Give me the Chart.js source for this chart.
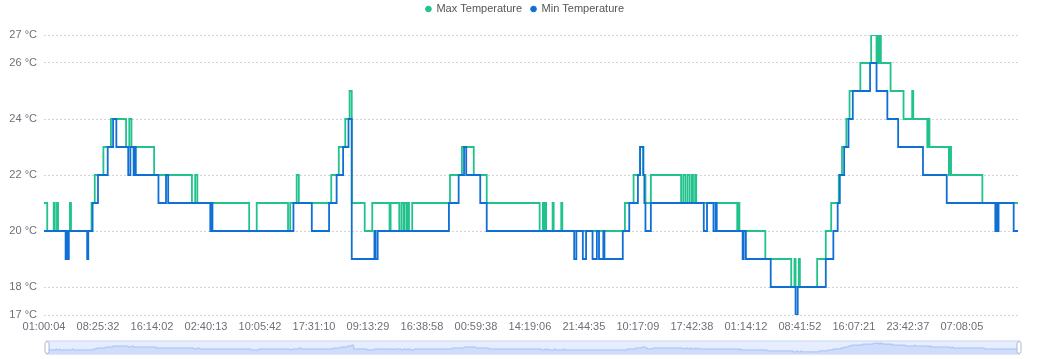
<!DOCTYPE html>
<html>
<head>
<meta charset="utf-8">
<script src="https://cdn.jsdelivr.net/npm/chart.js@4.4.1/dist/chart.umd.min.js"></script>
<style>
html, body { margin: 0; padding: 0; background: #fff; }
#wrap { position: relative; width: 1050px; height: 359px; }
#main { position: absolute; left: 0; top: 0; }
#slider { position: absolute; left: 0; top: 340px; }
</style>
</head>
<body>
<div id="wrap">
<canvas id="main" width="1050" height="359"></canvas>
<canvas id="slider" width="1050" height="15"></canvas>
</div>
<script>
// x axis: sample index, a label every 50 samples
const sampleCount = 903;
const labelEvery = 50;
const tickLabels = ["01:00:04", "08:25:32", "16:14:02", "02:40:13", "10:05:42", "17:31:10",
  "09:13:29", "16:38:58", "00:59:38", "14:19:06", "21:44:35", "10:17:09",
  "17:42:38", "01:14:12", "08:41:52", "16:07:21", "23:42:37", "07:08:05"];
const yTicks = [17, 18, 20, 22, 24, 26, 27];

// sample index where each new level starts, and the level
const maxAt = [0, 3, 9, 10, 12, 13, 24, 25, 44, 47, 55, 62, 76, 79, 81, 102, 137, 140, 142, 190,
  197, 226, 228, 234, 236, 266, 273, 279, 283, 285, 297, 304, 320, 321, 329, 331, 333, 334, 336, 337,
  338, 341, 376, 387, 398, 410, 459, 462, 463, 464, 465, 471, 472, 479, 480, 538, 546, 552, 555, 557,
  562, 590, 592, 594, 596, 598, 600, 601, 603, 604, 642, 643, 644, 668, 692, 695, 696, 699, 700, 716,
  724, 729, 736, 739, 743, 746, 756, 766, 771, 772, 773, 774, 775, 784, 796, 804, 805, 818, 819, 820,
  838, 839, 840, 869, 902];
const maxTemp = [21, 20, 21, 20, 21, 20, 21, 20, 21, 22, 23, 24, 23, 24, 23, 22, 21, 22, 21, 20,
  21, 20, 21, 22, 21, 22, 23, 24, 25, 21, 20, 21, 20, 21, 20, 21, 20, 21, 20, 21,
  20, 21, 22, 23, 22, 21, 20, 21, 20, 21, 20, 21, 20, 21, 20, 21, 22, 23, 22, 21,
  22, 21, 22, 21, 22, 21, 22, 21, 22, 21, 20, 21, 20, 19, 18, 19, 18, 19, 18, 19,
  20, 21, 22, 23, 24, 25, 26, 27, 26, 27, 26, 27, 26, 25, 24, 25, 24, 23, 24, 23,
  22, 23, 22, 21, 21];

const minAt = [0, 20, 21, 22, 23, 40, 41, 45, 50, 59, 64, 67, 78, 80, 83, 84, 85, 106, 113, 115,
  154, 155, 156, 231, 248, 264, 271, 277, 282, 285, 306, 307, 309, 375, 384, 389, 391, 404, 410, 491,
  493, 499, 502, 508, 512, 514, 518, 519, 536, 542, 550, 552, 555, 556, 557, 562, 611, 614, 620, 622,
  623, 647, 648, 650, 673, 696, 698, 724, 731, 735, 737, 741, 745, 749, 765, 771, 781, 791, 814, 836,
  881, 882, 883, 884, 898, 902];
const minTemp = [20, 19, 20, 19, 20, 19, 20, 21, 22, 23, 24, 23, 22, 23, 22, 23, 22, 21, 22, 21,
  20, 21, 20, 21, 20, 21, 22, 23, 24, 19, 20, 19, 20, 21, 22, 23, 22, 21, 20, 19,
  20, 19, 20, 19, 20, 19, 20, 19, 20, 21, 22, 23, 22, 21, 20, 21, 20, 21, 20, 21,
  20, 19, 20, 19, 18, 17, 18, 19, 20, 21, 22, 23, 24, 25, 26, 25, 24, 23, 22, 21,
  20, 21, 20, 21, 20, 20];

const green = "#22c28d";
const blue = "#0f6fd4";

const maxPoints = maxAt.map((x, i) => ({ x: x, y: maxTemp[i] }));
const minPoints = minAt.map((x, i) => ({ x: x, y: minTemp[i] }));

Chart.defaults.font.family = "'Liberation Sans', Arial, sans-serif";
Chart.defaults.font.size = 11;
Chart.defaults.color = "#6e7079";

// legend sits a bit above, chart area starts at the 27 line
const legendSpace = {
  id: "legendSpace",
  beforeInit(chart) {
    const fit = chart.legend.fit;
    chart.legend.fit = function () {
      fit.call(this);
      this.height = 40.5;
    };
  }
};

new Chart(document.getElementById("main"), {
  type: "line",
  data: {
    datasets: [{
      label: "Max Temperature",
      data: maxPoints,
      borderColor: green,
      backgroundColor: green,
      order: 1
    }, {
      label: "Min Temperature",
      data: minPoints,
      borderColor: blue,
      backgroundColor: blue,
      order: 0
    }]
  },
  options: {
    responsive: false,
    animation: false,
    devicePixelRatio: 1,
    layout: { padding: { top: -5.5, left: 0, right: 0, bottom: 24 } },
    elements: {
      point: { radius: 0, hoverRadius: 0 },
      line: { borderWidth: 1.8, stepped: true }
    },
    plugins: {
      tooltip: { enabled: false },
      legend: {
        labels: {
          usePointStyle: true,
          pointStyle: "circle",
          boxWidth: 5,
          boxHeight: 4,
          padding: 9,
          color: "#555",
          font: { size: 11 },
          sort: (a, b) => a.datasetIndex - b.datasetIndex
        }
      }
    },
    scales: {
      x: {
        type: "linear",
        min: 0,
        max: sampleCount - 1,
        grid: { display: false, drawTicks: false },
        border: { display: false },
        afterBuildTicks: (s) => {
          s.ticks = tickLabels.map((_, i) => ({ value: i * labelEvery }));
        },
        ticks: {
          autoSkip: false,
          maxRotation: 0,
          padding: 5,
          callback: (v) => tickLabels[Math.round(v / labelEvery)]
        },
        afterFit: (s) => { s.height = 20; }
      },
      y: {
        min: 17,
        max: 27,
        afterBuildTicks: (s) => {
          s.ticks = yTicks.map((v) => ({ value: v }));
        },
        ticks: {
          padding: 7,
          callback: (v) => v + " °C"
        },
        grid: { color: "#d4d4d4", drawTicks: false },
        border: { display: false, dash: [2, 2] },
        afterFit: (s) => { s.width = 44; }
      },
      yRight: {
        position: "right",
        display: true,
        grid: { display: false },
        border: { display: false },
        ticks: { display: false },
        afterFit: (s) => { s.width = 32; }
      }
    }
  },
  plugins: [legendSpace]
});

// data zoom slider below the axis
const lo = Math.min(...maxTemp);
const hi = Math.max(...maxTemp);
const pad = (hi - lo) * 0.3;

const sliderFrame = {
  id: "sliderFrame",
  beforeDatasetsDraw(chart) {
    const { ctx, chartArea: a } = chart;
    ctx.save();
    ctx.fillStyle = "rgba(135,175,255,0.22)";
    ctx.fillRect(a.left, a.top, a.width, a.height);
    ctx.restore();
  },
  afterDraw(chart) {
    const { ctx, chartArea: a } = chart;
    ctx.save();
    ctx.strokeStyle = "#d2dbee";
    ctx.lineWidth = 1;
    ctx.strokeRect(a.left + 0.5, a.top + 0.5, a.width - 1, a.height - 1);
    [a.left + 1, a.right - 1].forEach((x) => {
      ctx.beginPath();
      ctx.roundRect(x - 2, a.top + 1, 4, a.height - 2, 2);
      ctx.fillStyle = "#fff";
      ctx.fill();
      ctx.strokeStyle = "#acb8d1";
      ctx.stroke();
    });
    ctx.restore();
  }
};

new Chart(document.getElementById("slider"), {
  type: "line",
  data: {
    datasets: [{
      data: maxPoints,
      borderColor: "#a9c0f2",
      borderWidth: 1,
      backgroundColor: "rgba(143,176,247,0.25)",
      fill: "start",
      stepped: true,
      pointRadius: 0
    }]
  },
  options: {
    responsive: false,
    animation: false,
    devicePixelRatio: 1,
    layout: { padding: { top: 0.5, bottom: 0.5, left: 46, right: 30 } },
    plugins: { legend: { display: false }, tooltip: { enabled: false } },
    scales: {
      x: { type: "linear", min: 0, max: sampleCount - 1, display: false },
      y: { min: lo - pad, max: hi + pad, display: false }
    }
  },
  plugins: [sliderFrame]
});
</script>
</body>
</html>
